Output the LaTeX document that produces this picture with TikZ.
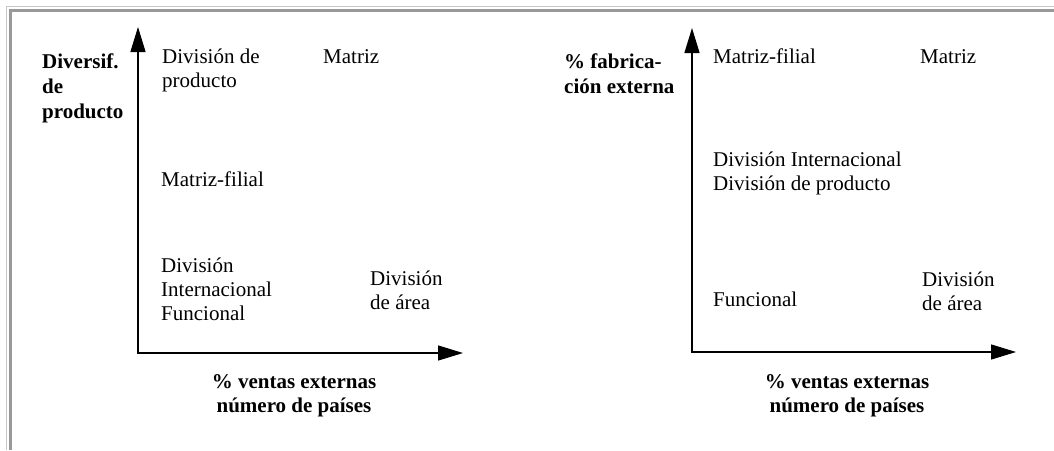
\documentclass[tikz,border=0pt]{standalone}
\usepackage{fontspec}
\setmainfont{Liberation Serif}
\usetikzlibrary{arrows.meta}
\begin{document}
\begin{tikzpicture}[x=1pt,y=-1pt,
  lbl/.style={anchor=base west, inner sep=0pt, align=left, font=\fontsize{21}{24}\selectfont},
  axlbl/.style={anchor=base west, inner sep=0pt, align=left, font=\fontsize{21}{25}\selectfont\bfseries},
  ttl/.style={anchor=base, inner sep=0pt, align=center, font=\fontsize{21}{24}\selectfont\bfseries},
  axis/.style={line width=1.3pt, line cap=rect, -{Triangle[length=25pt,width=15pt]}}]
  \useasboundingbox (0,0) rectangle (1054,450);
  % page frame (top and left edges)
  \draw[color=black!22, line width=1pt] (6.5,450) -- (6.5,6.5) -- (1054,6.5);
  \draw[color=black!40, line width=3pt] (10.5,450) -- (10.5,10.5) -- (1054,10.5);

  % multi-line nodes are placed by the baseline of their last line

  % ---- left chart ----
  \coordinate (oA) at (138,353);
  \coordinate (yA) at (138,27);
  \coordinate (xA) at (463,353);
  \draw[axis] (oA) -- (yA);
  \draw[axis] (oA) -- (xA);
  \node[axlbl] (yLabA) at (42,118) {Diversif.\\de\\producto};
  \node[lbl] (dpA) at (162,87) {División de\\producto};
  \node[lbl] (mA) at (323,63) {Matriz};
  \node[lbl] (mfA) at (161,186) {Matriz-filial};
  \node[lbl] (diA) at (161,320) {División\\Internacional\\Funcional};
  \node[lbl] (daA) at (370,309) {División\\de área};
  \node[ttl] (xLabA) at (294,412) {\% ventas externas\\número de países};

  % ---- right chart ----
  \coordinate (oB) at (692,352);
  \coordinate (yB) at (692,28);
  \coordinate (xB) at (1016,352);
  \draw[axis] (oB) -- (yB);
  \draw[axis] (oB) -- (xB);
  \node[axlbl] (yLabB) at (564,93) {\% fabrica-\\ción externa};
  \node[lbl] (mfB) at (713,63) {Matriz-filial};
  \node[lbl] (mB) at (920,63) {Matriz};
  \node[lbl] (dipB) at (713,190) {División Internacional\\División de producto};
  \node[lbl] (fB) at (713,306) {Funcional};
  \node[lbl] (daB) at (922,310) {División\\de área};
  \node[ttl] (xLabB) at (847,412) {\% ventas externas\\número de países};
\end{tikzpicture}
\end{document}
